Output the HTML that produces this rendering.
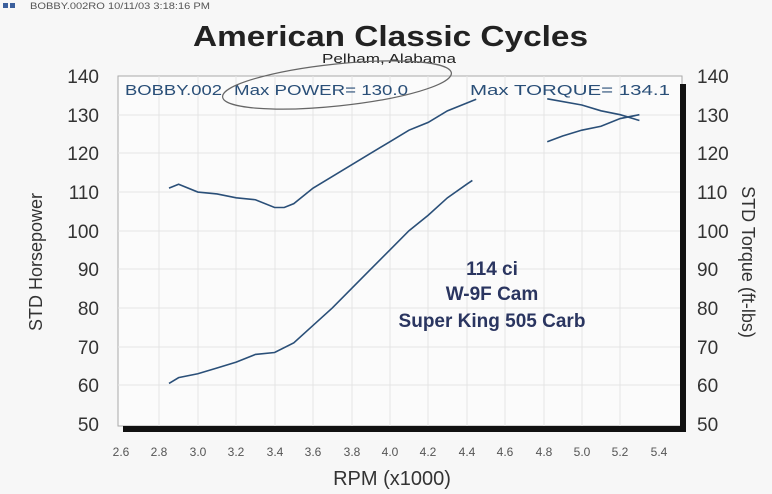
<!DOCTYPE html>
<html><head><meta charset="utf-8"><style>
body{margin:0;background:#f7f7f7;}
svg{display:block;font-family:"Liberation Sans",sans-serif;}
</style></head><body>
<svg width="772" height="494" viewBox="0 0 772 494">
<rect width="772" height="494" fill="#f7f7f7"/>
<rect x="3" y="3" width="5" height="5" fill="#3b5f9c"/><rect x="10" y="3" width="5" height="5" fill="#3b5f9c"/>
<text x="30" y="9" font-size="9" fill="#555" textLength="180" lengthAdjust="spacingAndGlyphs">BOBBY.002RO  10/11/03 3:18:16 PM</text>
<text x="193" y="46" font-size="29" font-weight="bold" fill="#222" textLength="395" lengthAdjust="spacingAndGlyphs">American Classic Cycles</text>
<text x="322" y="63" font-size="13" fill="#222" textLength="134" lengthAdjust="spacingAndGlyphs">Pelham, Alabama</text>
<rect x="118" y="76" width="564" height="350" fill="#fbfbfb" stroke="#aaa" stroke-width="1"/>
<g stroke="#e4e4e4" stroke-width="1">
<line x1="159" y1="76" x2="159" y2="426"/><line x1="198" y1="76" x2="198" y2="426"/><line x1="236" y1="76" x2="236" y2="426"/><line x1="275" y1="76" x2="275" y2="426"/><line x1="313" y1="76" x2="313" y2="426"/><line x1="352" y1="76" x2="352" y2="426"/><line x1="390" y1="76" x2="390" y2="426"/><line x1="428" y1="76" x2="428" y2="426"/><line x1="467" y1="76" x2="467" y2="426"/><line x1="505" y1="76" x2="505" y2="426"/><line x1="544" y1="76" x2="544" y2="426"/><line x1="582" y1="76" x2="582" y2="426"/><line x1="620" y1="76" x2="620" y2="426"/>
<line x1="118" y1="115" x2="682" y2="115"/><line x1="118" y1="153" x2="682" y2="153"/><line x1="118" y1="192" x2="682" y2="192"/><line x1="118" y1="231" x2="682" y2="231"/><line x1="118" y1="269" x2="682" y2="269"/><line x1="118" y1="308" x2="682" y2="308"/><line x1="118" y1="347" x2="682" y2="347"/><line x1="118" y1="385" x2="682" y2="385"/>
</g>
<rect x="123" y="426" width="563" height="6" fill="#111"/>
<rect x="680" y="84" width="6" height="348" fill="#111"/>
<g font-size="19" fill="#333" text-anchor="end">
<text x="99" y="83">140</text><text x="99" y="122">130</text><text x="99" y="160">120</text><text x="99" y="199">110</text><text x="99" y="238">100</text><text x="99" y="276">90</text><text x="99" y="315">80</text><text x="99" y="354">70</text><text x="99" y="392">60</text><text x="99" y="431">50</text>
</g>
<g font-size="19" fill="#333" text-anchor="start">
<text x="697" y="83">140</text><text x="697" y="122">130</text><text x="697" y="160">120</text><text x="697" y="199">110</text><text x="697" y="238">100</text><text x="697" y="276">90</text><text x="697" y="315">80</text><text x="697" y="354">70</text><text x="697" y="392">60</text><text x="697" y="431">50</text>
</g>
<g font-size="12" fill="#555" text-anchor="middle">
<text x="121" y="456">2.6</text><text x="159" y="456">2.8</text><text x="198" y="456">3.0</text><text x="236" y="456">3.2</text><text x="275" y="456">3.4</text><text x="313" y="456">3.6</text><text x="352" y="456">3.8</text><text x="390" y="456">4.0</text><text x="428" y="456">4.2</text><text x="467" y="456">4.4</text><text x="505" y="456">4.6</text><text x="544" y="456">4.8</text><text x="582" y="456">5.0</text><text x="620" y="456">5.2</text><text x="659" y="456">5.4</text>
</g>
<text x="392" y="485" font-size="20" text-anchor="middle" fill="#333">RPM (x1000)</text>
<text transform="translate(42 262) rotate(-90)" font-size="18" text-anchor="middle" fill="#333">STD Horsepower</text>
<text transform="translate(742 262) rotate(90)" font-size="18" text-anchor="middle" fill="#333">STD Torque (ft-lbs)</text>
<g font-size="15" fill="#2a4f78">
<text x="125" y="95" textLength="97" lengthAdjust="spacingAndGlyphs">BOBBY.002</text>
<text x="234" y="95" textLength="174" lengthAdjust="spacingAndGlyphs">Max POWER= 130.0</text>
<text x="470" y="95" textLength="200" lengthAdjust="spacingAndGlyphs">Max TORQUE= 134.1</text>
</g>
<ellipse cx="337" cy="85" rx="115" ry="21" transform="rotate(-6 337 85)" fill="none" stroke="#666" stroke-width="1.2"/>
<g fill="#2a3560" font-size="19" font-weight="bold" text-anchor="middle">
<text x="492" y="275">114 ci</text><text x="492" y="300">W-9F Cam</text><text x="492" y="327">Super King 505 Carb</text>
</g>
<g transform="matrix(192 0 0 -3.867 -378.2 617.4)" fill="none" stroke="#2a4f78" stroke-width="1.6">
<polyline vector-effect="non-scaling-stroke" points="2.85,111 2.9,112 3.0,110 3.1,109.5 3.2,108.5 3.3,108 3.4,106 3.45,106 3.5,107 3.6,111 3.7,114 3.8,117 3.9,120 4.0,123 4.1,126 4.2,128 4.3,131 4.4,133 4.45,134"/>
<polyline vector-effect="non-scaling-stroke" points="4.82,134.1 5.0,132.5 5.1,131 5.2,130 5.3,128.5"/>
<polyline vector-effect="non-scaling-stroke" points="2.85,60.5 2.9,62 3.0,63 3.1,64.5 3.2,66 3.3,68 3.4,68.5 3.5,71 3.6,75.5 3.7,80 3.8,85 3.9,90 4.0,95 4.1,100 4.2,104 4.3,108.5 4.4,112 4.43,113"/>
<polyline vector-effect="non-scaling-stroke" points="4.82,123 4.9,124.5 5.0,126 5.1,127 5.2,129 5.3,130"/>
</g>
</svg>
</body></html>
